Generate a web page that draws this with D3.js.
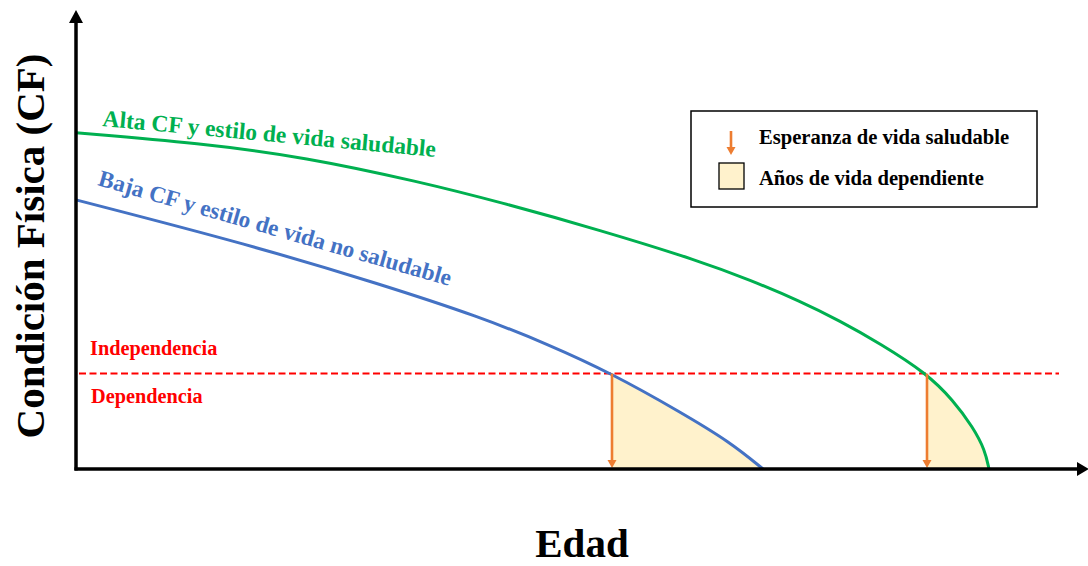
<!DOCTYPE html>
<html><head><meta charset="utf-8">
<script src="https://cdn.jsdelivr.net/npm/d3@7"></script>
<style>
body{margin:0;background:#fff}
svg{display:block}
text{font-family:"Liberation Serif","Times New Roman",serif;font-weight:bold}
</style>
</head><body>
<svg id="chart" width="1088" height="566"></svg>
<script>
// ---- data (arbitrary units: Edad 0-100, CF 0-100) ----
const ageHigh = [0, 12.4, 22.9, 34.4, 42.4, 52.4, 62.4, 67.4, 72.4, 76.4, 80.4, 85.1, 87.7, 89.7, 90.9, 91.3];
const cfHigh  = [74.7, 72.4, 69.3, 63.8, 59.3, 53.1, 46.2, 42.0, 37.3, 32.9, 27.9, 21.2, 15.3, 9.3, 4.2, 0];
const ageLow  = [0, 17.4, 30.4, 40.4, 47.1, 53.6, 60.4, 65.4, 68.7];
const cfLow   = [59.8, 49.8, 41.1, 33.8, 27.8, 21.2, 12.7, 6.0, 0];
const thresholdCF = 21.2;
const onsetAge = [53.6, 85.1];           // where each curve crosses the threshold
const seriesLabels = ["Alta CF y estilo de vida saludable", "Baja CF y estilo de vida no saludable"];
const zoneLabels = ["Independencia", "Dependencia"];
const legendLabels = ["Esperanza de vida saludable", "Años de vida dependiente"];
const xTitle = "Edad";
const yTitle = "Condición Física (CF)";

const C = {green:"#00B050", blue:"#4472C4", red:"#FF0000", orange:"#ED7D31", fill:"#FFF2CC"};

const svg = d3.select("#chart");
const x = d3.scaleLinear().domain([0, 100]).range([76, 1076]);
const y = d3.scaleLinear().domain([0, 100]).range([469, 19]);

const high = ageHigh.map((a, i) => ({a, v: cfHigh[i]}));
const low  = ageLow.map((a, i) => ({a, v: cfLow[i]}));
const curve = d3.curveBasis;
const line = d3.line().x(d => x(d.a)).y(d => y(d.v)).curve(curve);
const area = d3.area().x(d => x(d.a)).y0(y(0)).y1(d => y(d.v)).curve(curve);

const defs = svg.append("defs");
[low, high].forEach((s, i) => {
  defs.append("clipPath").attr("id", "clip" + i)
    .append("rect").attr("x", x(onsetAge[i])).attr("y", 0)
    .attr("width", 1088 - x(onsetAge[i])).attr("height", y(0));
});

// shaded dependent years
[low, high].forEach((s, i) => {
  svg.append("path").datum(s).attr("d", area)
    .attr("fill", C.fill).attr("clip-path", `url(#clip${i})`);
});

// threshold line
svg.append("line")
  .attr("x1", x(0.3)).attr("x2", 1059)
  .attr("y1", y(thresholdCF)).attr("y2", y(thresholdCF))
  .attr("stroke", C.red).attr("stroke-width", 2).attr("stroke-dasharray", "7,3.5");

// curves
svg.append("path").datum(high).attr("d", line).attr("fill", "none")
  .attr("stroke", C.green).attr("stroke-width", 3);
svg.append("path").datum(low).attr("d", line).attr("fill", "none")
  .attr("stroke", C.blue).attr("stroke-width", 3);

// orange arrows
function downArrow(g, cx, y1, y2, hw, hh) {
  g.append("line").attr("x1", cx).attr("x2", cx).attr("y1", y1).attr("y2", y2 - hh + 1)
    .attr("stroke", C.orange).attr("stroke-width", 2.6);
  g.append("path").attr("d", `M${cx - hw},${y2 - hh}L${cx + hw},${y2 - hh}L${cx},${y2}Z`)
    .attr("fill", C.orange);
}
onsetAge.forEach(a => downArrow(svg, x(a), y(thresholdCF), y(0) - 1, 4.5, 8));

// axes
svg.append("line").attr("x1", x(0)).attr("x2", x(0)).attr("y1", y(0) + 1.5).attr("y2", 20)
  .attr("stroke", "#000").attr("stroke-width", 3.5);
svg.append("path").attr("d", `M${x(0) - 7},23L${x(0) + 7},23L${x(0)},10Z`).attr("fill", "#000");
svg.append("line").attr("x1", x(0) - 1.5).attr("x2", 1080).attr("y1", y(0)).attr("y2", y(0))
  .attr("stroke", "#000").attr("stroke-width", 3.5);
svg.append("path").attr("d", `M1077,${y(0) - 7}L1077,${y(0) + 7}L1089,${y(0)}Z`).attr("fill", "#000");

// axis titles
svg.append("text").attr("x", 582).attr("y", 557).attr("text-anchor", "middle")
  .attr("font-size", 41).attr("fill", "#000").text(xTitle);
svg.append("text").attr("transform", "translate(44,246) rotate(-90)").attr("text-anchor", "middle")
  .attr("font-size", 41).attr("fill", "#000").text(yTitle);

// series labels
svg.append("text").attr("transform", "translate(102,126) rotate(5.3)")
  .attr("font-size", 23.5).attr("fill", C.green).text(seriesLabels[0]);
svg.append("text").attr("transform", "translate(97,185) rotate(16)")
  .attr("font-size", 23.3).attr("fill", C.blue).text(seriesLabels[1]);

// zone labels
svg.append("text").attr("x", 90).attr("y", 355).attr("font-size", 20.3).attr("fill", C.red).text(zoneLabels[0]);
svg.append("text").attr("x", 91).attr("y", 403).attr("font-size", 20.3).attr("fill", C.red).text(zoneLabels[1]);

// legend
const lg = svg.append("g");
lg.append("rect").attr("x", 691).attr("y", 111).attr("width", 346).attr("height", 96)
  .attr("fill", "#fff").attr("stroke", "#000").attr("stroke-width", 1.5);
downArrow(lg, 731, 131, 155, 4.5, 8);
lg.append("rect").attr("x", 719).attr("y", 163).attr("width", 25).attr("height", 26)
  .attr("fill", C.fill).attr("stroke", "#000").attr("stroke-width", 1.3);
lg.append("text").attr("x", 759).attr("y", 144).attr("font-size", 20.6).attr("fill", "#000").text(legendLabels[0]);
lg.append("text").attr("x", 759).attr("y", 185).attr("font-size", 20.6).attr("fill", "#000").text(legendLabels[1]);
</script>
</body></html>
